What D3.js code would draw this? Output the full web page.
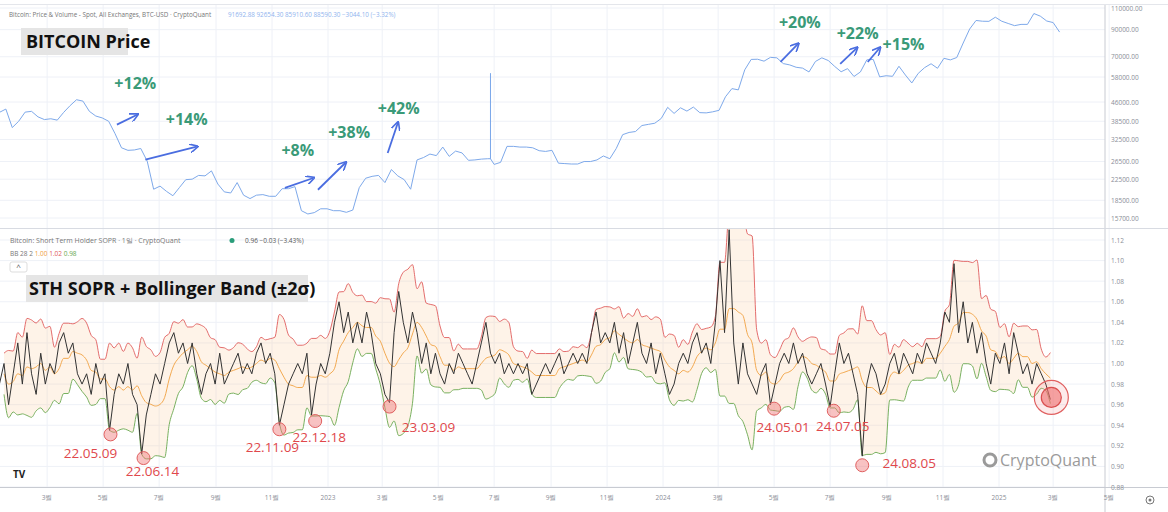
<!DOCTYPE html>
<html><head><meta charset="utf-8">
<script src="https://cdn.jsdelivr.net/npm/d3@7"></script>
<style>body{margin:0;background:#fff}svg{display:block;font-family:"Open Sans",sans-serif}</style>
</head><body><svg id="c" width="1168" height="512"></svg>
<script>
// weekly BTC price, starting 2022-01-08, 7-day step
const priceStart = "2022-01-08";
const priceValues = [41800,43100,36300,38500,41900,42200,40100,39100,39400,38900,41800,44500,47000,46400,42200,40400,39700,38500,34300,30100,29400,29500,29900,26600,20500,21100,20100,19300,20800,22400,22500,23300,23200,24300,21500,20000,19800,21800,19400,18800,19400,19500,19200,19200,20600,20600,21000,16800,16300,16500,17100,17100,16800,16800,16550,
16900,20800,22700,23100,23300,21800,24600,23200,22400,20500,26900,27500,28400,28000,30300,27800,29200,28700,26800,26900,27100,27200,25800,26300,30500,30500,30300,30300,30100,29300,29100,29400,26100,26000,25900,25900,26500,26500,26900,27900,27200,29900,34000,34700,35000,37000,37400,37800,39500,43800,41400,43600,42300,
43900,41700,41600,42000,42600,48300,52100,51500,62000,68300,68400,67200,69600,69300,65700,64900,63500,63000,60800,67000,69300,67600,64000,60900,62700,58300,60800,68000,68300,58100,58700,58400,64100,59100,54900,60000,63300,65600,62900,69000,68000,69500,79500,90500,98000,97300,97200,101000,97300,95300,93400,
94500,94500,104500,102000,97500,96100,88000];
const priceSpike = {date:"2023-06-27", value:60000};
// STH SOPR, starting 2022-01-08, 5-day step
const soprStart = "2022-01-08";
const soprValues = [0.98,1.00,0.96,0.99,1.02,0.98, 1.03,0.99,0.97,1.01,0.98,1.00, 0.99,1.02,1.03,1.01,1.02,0.99, 0.98,0.99,0.97,1.00,0.98,0.99,
0.935,0.97,0.99,0.98,1.00,0.97, 0.96,0.912,0.95,0.97,0.99,0.98, 1.00,1.02,1.03,1.01,1.02,1.00, 1.02,0.99,0.97,0.99,1.00,0.98,
1.01,0.98,0.99,1.00,1.01,0.99, 1.00,0.99,1.01,1.02,1.00,1.01, 0.99,0.94,0.96,0.98,0.99,1.00, 0.99,1.01,0.95,0.98,1.00,0.99,
1.01,1.04,1.06,1.03,1.05,1.02, 1.04,1.02,1.05,1.03,1.00,0.99, 0.97,0.962,1.03,1.07,1.04,1.02, 1.05,1.03,1.00,1.02,0.99,1.01,
0.99,0.98,1.00,0.99,1.01,1.00, 0.99,0.98,1.00,1.02,1.04,1.01, 1.00,1.01,0.99,1.00,0.99,1.00, 0.99,1.00,0.97,0.98,0.99,1.00,
0.99,1.00,1.01,0.99,1.00,1.01, 1.00,1.01,1.00,1.03,1.05,1.02, 1.03,1.02,1.04,1.01,1.03,1.00, 1.02,1.04,1.01,1.00,1.02,0.99,
1.01,0.99,0.97,0.98,1.00,1.01, 1.00,1.02,1.03,1.01,1.02,1.00, 1.04,1.10,1.03,1.13,1.02,0.98, 1.02,0.99,0.98,0.97,0.99,1.00,
0.96,0.98,1.00,1.01,1.00,1.02, 1.00,1.01,0.99,0.98,0.99,1.00, 0.98,0.958,0.99,1.02,1.00,1.01, 0.99,0.97,0.91,0.98,1.00,0.99,
0.97,0.98,1.00,1.01,0.99,1.01, 1.00,0.99,1.01,1.00,1.02,1.01, 1.00,1.02,1.05,1.04,1.097,1.03, 1.06,1.02,1.04,1.01,1.03,1.00,
0.98,1.01,1.00,1.02,0.99,1.03, 1.01,0.99,1.00,0.98,1.00,0.99, 0.98,0.965];
const bbPeriod = 6, bbMult = 2;
const priceTicks = [110000,90000,70000,58000,46000,38500,32500,26500,22500,18500,15700];
const soprTicks = [1.12,1.10,1.08,1.06,1.04,1.02,1.00,0.98,0.96,0.94,0.92,0.90,0.88];
const dips = [
 {label:"22.05.09",date:"2022-05-09",value:0.935,dx:-20,dy:24},
 {label:"22.06.14",date:"2022-06-14",value:0.912,dx:9,dy:18},
 {label:"22.11.09",date:"2022-11-09",value:0.94,dx:-7,dy:23},
 {label:"22.12.18",date:"2022-12-18",value:0.948,dx:4,dy:21},
 {label:"23.03.09",date:"2023-03-09",value:0.962,dx:39,dy:25},
 {label:"24.05.01",date:"2024-05-01",value:0.96,dx:9,dy:23},
 {label:"24.07.05",date:"2024-07-05",value:0.958,dx:9,dy:20},
 {label:"24.08.05",date:"2024-08-05",value:0.905,dx:47,dy:3}];
const lastPoint = {date:"2025-02-27",value:0.967};
const gains = [
 {label:"+12%",from:["2022-05-16",37300],to:["2022-06-07",40900],text:["2022-06-05",54000]},
 {label:"+14%",from:["2022-06-16",26950],to:["2022-08-11",30400],text:["2022-07-31",38600]},
 {label:"+8%",from:["2022-11-15",20750],to:["2022-12-16",22750],text:["2022-11-29",29000]},
 {label:"+38%",from:["2022-12-21",20400],to:["2023-01-20",26200],text:["2023-01-24",34200]},
 {label:"+42%",from:["2023-03-07",28700],to:["2023-03-18",37900],text:["2023-03-19",42900]},
 {label:"+20%",from:["2024-05-08",66700],to:["2024-05-27",78800],text:["2024-05-29",94900]},
 {label:"+22%",from:["2024-07-12",65500],to:["2024-07-30",75900],text:["2024-07-31",85700]},
 {label:"+15%",from:["2024-08-11",66700],to:["2024-08-24",75900],text:["2024-09-19",77400]}];
const monthTicks = ["2022-03-01","2022-05-01","2022-07-01","2022-09-01","2022-11-01","2023-01-01","2023-03-01","2023-05-01","2023-07-01","2023-09-01","2023-11-01","2024-01-01","2024-03-01","2024-05-01","2024-07-01","2024-09-01","2024-11-01","2025-01-01","2025-03-01","2025-05-01"];

const P = d3.timeParse("%Y-%m-%d");
const svg = d3.select("#c");
const W = 1105;
const x = d3.scaleTime().domain([P("2022-01-01"),P("2025-01-01")]).range([-7,999]);
const yP = d3.scaleLog().domain([15700,110000]).range([218,8]);
const yS = d3.scaleLinear().domain([0.88,1.12]).range([487,240]);

const defs = svg.append("defs");
defs.append("clipPath").attr("id","cp").append("rect").attr("x",0).attr("y",0).attr("width",W).attr("height",228);
defs.append("clipPath").attr("id","cs").append("rect").attr("x",0).attr("y",229).attr("width",W).attr("height",258);
defs.append("marker").attr("id","ar").attr("viewBox","0 0 10 10").attr("refX",8).attr("refY",5)
 .attr("markerWidth",5).attr("markerHeight",5).attr("orient","auto")
 .append("path").attr("d","M0,0 L10,5 L0,10").attr("fill","none").attr("stroke","#4a6de0").attr("stroke-width",1.8);

// grid
const grid = svg.append("g").attr("stroke","#eef1f7").attr("stroke-width",1);
monthTicks.forEach(t=>grid.append("line").attr("x1",x(P(t))).attr("x2",x(P(t))).attr("y1",4).attr("y2",487));
priceTicks.forEach(t=>grid.append("line").attr("x1",0).attr("x2",W).attr("y1",yP(t)).attr("y2",yP(t)));
soprTicks.forEach(t=>grid.append("line").attr("x1",0).attr("x2",W).attr("y1",yS(t)).attr("y2",yS(t)));
// frame
svg.append("line").attr("x1",W).attr("x2",W).attr("y1",4).attr("y2",512).attr("stroke","#c8cbd2");
svg.append("line").attr("x1",0).attr("x2",1168).attr("y1",228.5).attr("y2",228.5).attr("stroke","#d8dbe2");
svg.append("line").attr("x1",0).attr("x2",1168).attr("y1",487.5).attr("y2",487.5).attr("stroke","#c8cbd2");
svg.append("line").attr("x1",0).attr("x2",1168).attr("y1",4.5).attr("y2",4.5).attr("stroke","#e4e6eb");

// price
const priceData = priceValues.map((v,i)=>({d:d3.timeDay.offset(P(priceStart),i*7),v}));
const sp = P(priceSpike.date);
const idx = priceData.findIndex(p=>p.d>sp);
priceData.splice(idx,0,{d:sp,v:priceData[idx-1].v},{d:sp,v:priceSpike.value},{d:sp,v:priceData[idx-1].v});
svg.append("path").datum(priceData).attr("clip-path","url(#cp)")
 .attr("d",d3.line().x(d=>x(d.d)).y(d=>yP(d.v)))
 .attr("fill","none").attr("stroke","#7ea9ea").attr("stroke-width",1);

// sopr + bollinger
const sData = soprValues.map((v,i)=>({d:d3.timeDay.offset(P(soprStart),i*5),v}));
sData.forEach((p,i)=>{
  const w = soprValues.slice(Math.max(0,i-bbPeriod+1),i+1);
  const m = d3.mean(w), s = Math.sqrt(d3.mean(w,z=>(z-m)*(z-m)));
  p.m=m; p.u=m+bbMult*s; p.l=m-bbMult*s;
});
const bb = sData.slice(1);
const gS = svg.append("g").attr("clip-path","url(#cs)");
gS.append("path").datum(bb).attr("d",d3.area().curve(d3.curveMonotoneX).x(d=>x(d.d)).y0(d=>yS(d.l)).y1(d=>yS(d.u))).attr("fill","rgba(252,200,150,0.22)");
gS.append("path").datum(bb).attr("d",d3.line().curve(d3.curveMonotoneX).x(d=>x(d.d)).y(d=>yS(d.u))).attr("fill","none").attr("stroke","#e05c5c").attr("stroke-width",0.9);
gS.append("path").datum(bb).attr("d",d3.line().curve(d3.curveMonotoneX).x(d=>x(d.d)).y(d=>yS(d.l))).attr("fill","none").attr("stroke","#6aa84f").attr("stroke-width",0.9);
gS.append("path").datum(bb).attr("d",d3.line().curve(d3.curveMonotoneX).x(d=>x(d.d)).y(d=>yS(d.m))).attr("fill","none").attr("stroke","#f0a040").attr("stroke-width",0.9);
gS.append("path").datum(sData).attr("d",d3.line().x(d=>x(d.d)).y(d=>yS(d.v))).attr("fill","none").attr("stroke","#333").attr("stroke-width",1);

// dips
dips.forEach(d=>{
  const cx=x(P(d.date)), cy=yS(d.value)+4;
  svg.append("circle").attr("cx",cx).attr("cy",cy).attr("r",6.5).attr("fill","rgba(240,120,120,0.45)").attr("stroke","#e06060").attr("stroke-width",1);
  svg.append("text").attr("x",cx+d.dx).attr("y",cy+d.dy).attr("text-anchor","middle").attr("font-size",13.5).attr("fill","#e0484c").text(d.label);
});
{const cx=x(P(lastPoint.date)), cy=yS(lastPoint.value);
 svg.append("circle").attr("cx",cx).attr("cy",cy).attr("r",17).attr("fill","rgba(240,120,120,0.15)").attr("stroke","#e06060").attr("stroke-width",1.2);
 svg.append("circle").attr("cx",cx).attr("cy",cy).attr("r",10).attr("fill","rgba(240,110,110,0.6)").attr("stroke","#d94f4f").attr("stroke-width",1.2);}

// gains
gains.forEach(g=>{
  svg.append("line").attr("x1",x(P(g.from[0]))).attr("y1",yP(g.from[1])).attr("x2",x(P(g.to[0]))).attr("y2",yP(g.to[1]))
   .attr("stroke","#4a6de0").attr("stroke-width",1.8).attr("marker-end","url(#ar)");
  svg.append("text").attr("x",x(P(g.text[0]))).attr("y",yP(g.text[1])).attr("text-anchor","middle").attr("dominant-baseline","middle")
   .attr("font-size",16).attr("font-weight","bold").attr("fill","#3a9a78").text(g.label);
});

// right axes
const ax = svg.append("g").attr("font-size",6.5).attr("fill","#8a8e97");
priceTicks.forEach(t=>ax.append("text").attr("x",1111).attr("y",yP(t)+2.5).text(d3.format(".2f")(t)));
soprTicks.forEach(t=>ax.append("text").attr("x",1111).attr("y",yS(t)+2.5).text(d3.format(".2f")(t)));
// bottom axis
monthTicks.forEach(t=>{const d=P(t);
  svg.append("text").attr("x",x(d)).attr("y",500).attr("text-anchor","middle").attr("font-size",6.5).attr("fill","#8a8e97")
   .text(d.getMonth()===0? d.getFullYear(): (d.getMonth()+1)+"월");});
svg.append("circle").attr("cx",1150).attr("cy",500).attr("r",4).attr("fill","none").attr("stroke","#777");
svg.append("circle").attr("cx",1150).attr("cy",500).attr("r",1.5).attr("fill","#777");

// headers
svg.append("text").attr("x",9).attr("y",17).attr("font-size",6.3).attr("fill","#777").text("Bitcoin: Price & Volume - Spot, All Exchanges, BTC-USD · CryptoQuant");
svg.append("text").attr("x",228).attr("y",17).attr("font-size",6.3).attr("fill","#8fb3ee").text("91692.88  92654.30  85910.60  88590.30  −3044.10 (−3.32%)");
svg.append("text").attr("x",10).attr("y",243).attr("font-size",7).attr("fill","#777").text("Bitcoin: Short Term Holder SOPR · 1일 · CryptoQuant");
svg.append("circle").attr("cx",232).attr("cy",240.5).attr("r",2.5).attr("fill","#2a9d7a");
svg.append("text").attr("x",245).attr("y",243).attr("font-size",6.5).attr("fill","#555").text("0.96  −0.03 (−3.43%)");
const bl = svg.append("text").attr("x",10).attr("y",256).attr("font-size",6.5);
bl.append("tspan").attr("fill","#777").text("BB 28 2 ");
bl.append("tspan").attr("fill","#f0a040").text(" 1.00 ");
bl.append("tspan").attr("fill","#e05c5c").text(" 1.02 ");
bl.append("tspan").attr("fill","#6aa84f").text(" 0.98");
svg.append("rect").attr("x",10).attr("y",262).attr("width",17).attr("height",10).attr("rx",2).attr("fill","#fff").attr("stroke","#ddd");
svg.append("text").attr("x",18.5).attr("y",270).attr("text-anchor","middle").attr("font-size",8).attr("fill","#555").text("^");

svg.append("rect").attr("x",21).attr("y",28).attr("width",107).attr("height",27).attr("fill","#e5e5e5");
svg.append("text").attr("x",26).attr("y",48).attr("font-size",18).attr("font-weight","bold").attr("fill","#111").text("BITCOIN Price");
svg.append("rect").attr("x",26).attr("y",275).attr("width",282).attr("height",27).attr("fill","#e5e5e5");
svg.append("text").attr("x",29).attr("y",295).attr("font-size",18).attr("font-weight","bold").attr("fill","#111").text("STH SOPR + Bollinger Band (±2σ)");

// watermarks
svg.append("text").attr("x",13).attr("y",478).attr("font-size",10).attr("font-weight","bold").attr("fill","#222").text("TV");
svg.append("circle").attr("cx",990).attr("cy",460).attr("r",6).attr("fill","none").attr("stroke","#9a9a9a").attr("stroke-width",3);
svg.append("text").attr("x",1000).attr("y",466).attr("font-size",16).attr("fill","#9a9a9a").text("CryptoQuant");
</script></body></html>
